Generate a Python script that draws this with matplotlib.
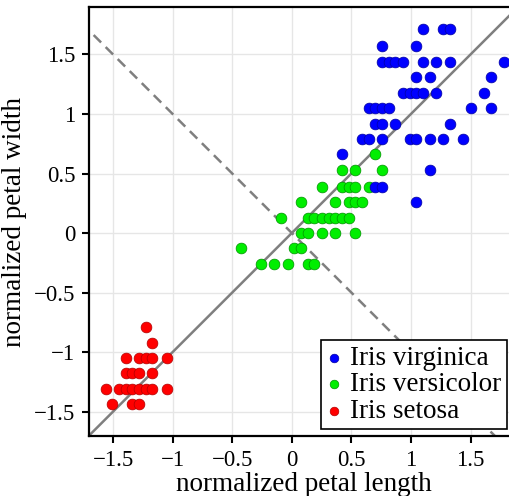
import matplotlib

matplotlib.use("Agg")
import matplotlib.pyplot as plt
import numpy as np

plt.rcParams["font.family"] = ["Liberation Serif", "DejaVu Serif"]

# normalized petal measurements, one entry per distinct (length, width) pair
setosa_x = [-1.51, -1.34, -1.28, -1.56, -1.45, -1.39, -1.34, -1.28, -1.22, -1.17, -1.05,
            -1.39, -1.34, -1.28, -1.17, -1.39, -1.28, -1.22, -1.17, -1.05, -1.17, -1.22]
setosa_y = [-1.44, -1.44, -1.44, -1.31, -1.31, -1.31, -1.31, -1.31, -1.31, -1.31, -1.31,
            -1.18, -1.18, -1.18, -1.18, -1.05, -1.05, -1.05, -1.05, -1.05, -0.92, -0.79]

versicolor_x = [-0.26, -0.15, -0.03, 0.14, 0.19,
                -0.43, 0.02, 0.08,
                0.08, 0.14, 0.25, 0.36, 0.53,
                -0.09, 0.14, 0.19, 0.25, 0.31, 0.36, 0.42, 0.48,
                0.08, 0.36, 0.48, 0.53, 0.59,
                0.25, 0.42, 0.48, 0.53, 0.65,
                0.42, 0.53, 0.76,
                0.70]
versicolor_y = [-0.26, -0.26, -0.26, -0.26, -0.26,
                -0.13, -0.13, -0.13,
                0.00, 0.00, 0.00, 0.00, 0.00,
                0.13, 0.13, 0.13, 0.13, 0.13, 0.13, 0.13, 0.13,
                0.26, 0.26, 0.26, 0.26, 0.26,
                0.39, 0.39, 0.39, 0.39, 0.39,
                0.53, 0.53, 0.53,
                0.66]

virginica_x = [1.04,
               0.70, 0.76,
               1.16,
               0.42,
               0.59, 0.65, 0.76, 0.99, 1.04, 1.16, 1.27, 1.44,
               0.70, 0.76, 0.87, 1.33,
               0.65, 0.70, 0.76, 0.82, 1.50, 1.67,
               0.93, 0.99, 1.04, 1.10, 1.21, 1.61,
               1.04, 1.16, 1.67,
               0.76, 0.82, 0.87, 0.93, 1.10, 1.21, 1.33, 1.78,
               0.76, 1.04,
               1.10, 1.27, 1.33]
virginica_y = [0.26,
               0.39, 0.39,
               0.53,
               0.66,
               0.79, 0.79, 0.79, 0.79, 0.79, 0.79, 0.79, 0.79,
               0.92, 0.92, 0.92, 0.92,
               1.05, 1.05, 1.05, 1.05, 1.05, 1.05,
               1.18, 1.18, 1.18, 1.18, 1.18, 1.18,
               1.31, 1.31, 1.31,
               1.44, 1.44, 1.44, 1.44, 1.44, 1.44, 1.44, 1.44,
               1.57, 1.57,
               1.71, 1.71, 1.71]

ticks = [-1.5, -1, -0.5, 0, 0.5, 1, 1.5]
tick_labels = ["\u22121.5", "\u22121", "\u22120.5", "0", "0.5", "1", "1.5"]

fig = plt.figure(figsize=(5.10, 4.96), dpi=100)
ax = fig.add_axes([0.175, 0.121, 0.841, 0.864])
xlim = (-1.70, 1.90)
ylim = (-1.705, 1.895)

ax.grid(True, color="#e6e6e6", linewidth=1.0, zorder=0)
ax.set_axisbelow(True)

# y = x and y = -x reference lines
line = np.array([-2.0, 2.0])
ax.plot(line, line, color="#7f7f7f", linewidth=1.8, zorder=1)
ax.plot(line, -line, color="#7f7f7f", linewidth=1.8, dashes=(4.2, 2.6), zorder=1)

kw = dict(s=60, linewidths=0.5, zorder=3)
h_set = ax.scatter(setosa_x, setosa_y, c="#ff0000", edgecolors="#b00000", **kw)
h_ver = ax.scatter(versicolor_x, versicolor_y, c="#00ee00", edgecolors="#009000", **kw)
h_vir = ax.scatter(virginica_x, virginica_y, c="#0000ff", edgecolors="#0000a0", **kw)

ax.set_xlim(*xlim)
ax.set_ylim(*ylim)
ax.set_xticks(ticks)
ax.set_xticklabels(tick_labels)
ax.set_yticks(ticks)
ax.set_yticklabels(tick_labels)
ax.tick_params(direction="out", length=5, width=1.5, labelsize=16.5, pad=5)
for s in ax.spines.values():
    s.set_linewidth(1.6)

ax.set_xlabel("normalized petal length", fontsize=19.5, labelpad=1)
ax.set_ylabel("normalized petal width", fontsize=19.5, labelpad=5)

leg = ax.legend([h_vir, h_ver, h_set], ["Iris virginica", "Iris versicolor", "Iris setosa"],
                loc="lower right", bbox_to_anchor=(0.994, 0.135),
                bbox_transform=fig.transFigure, fontsize=19.5, markerscale=0.8,
                handlelength=0.6, handletextpad=0.3, labelspacing=0.05,
                borderpad=0.2, borderaxespad=0, fancybox=False, framealpha=1)
leg.get_frame().set_edgecolor("black")
leg.get_frame().set_linewidth(1.2)

plt.savefig("out.png", dpi=100)
plt.close()
